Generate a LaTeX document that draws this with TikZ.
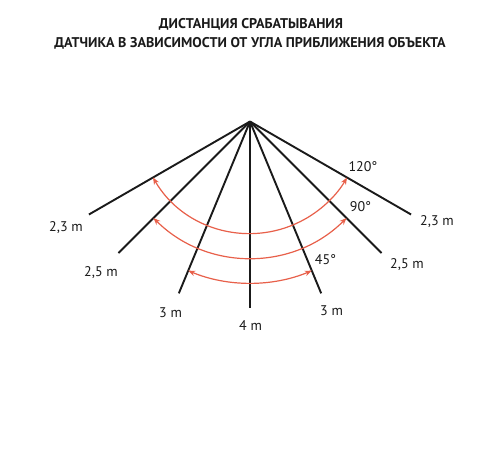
\documentclass[tikz,border=0pt]{standalone}
\usepackage{fontspec}
\setmainfont{PT Sans}
\usetikzlibrary{arrows.meta}
\definecolor{arcred}{HTML}{E8604A}
\definecolor{ink}{HTML}{1A1A1A}
\begin{document}
\begin{tikzpicture}[x=1pt,y=-1pt,
  ray/.style={draw=ink,line width=1.9pt},
  sweep/.style={draw=arcred,line width=1.2pt,{Stealth[length=7pt,width=5.5pt]}-{Stealth[length=7pt,width=5.5pt]}},
  lbl/.style={text=ink,font=\fontsize{14}{16}\selectfont,inner sep=0pt},
  ttl/.style={text=ink,font=\bfseries\fontsize{14.1}{16}\selectfont,inner sep=0pt}]
\useasboundingbox[fill=white] (0,0) rectangle (500,450);
% title
\node[ttl] (t1) at (251,24.5) {ДИСТАНЦИЯ СРАБАТЫВАНИЯ};
\node[ttl] (t2) at (250,43) {ДАТЧИКА В ЗАВИСИМОСТИ ОТ УГЛА ПРИБЛИЖЕНИЯ ОБЪЕКТА};
% apex and ray ends
\coordinate (apex) at (250,121.5);
\coordinate (eL23) at ([shift={(150:186)}]apex);
\coordinate (eL25) at ([shift={(135:186)}]apex);
\coordinate (eL3)  at ([shift={(112.5:186)}]apex);
\coordinate (eC4)  at ([shift={(90:186)}]apex);
\coordinate (eR3)  at ([shift={(67.5:186)}]apex);
\coordinate (eR25) at ([shift={(45:186)}]apex);
\coordinate (eR23) at ([shift={(30:186)}]apex);
\foreach \e in {eL23,eL25,eL3,eC4,eR3,eR25,eR23}
  \draw[ray] (apex) -- (\e);
% arc end points
\coordinate (a120s) at ([shift={(150:112)}]apex);
\coordinate (a90s)  at ([shift={(135:136.5)}]apex);
\coordinate (a45s)  at ([shift={(112.5:161.5)}]apex);
\draw[sweep] (a120s) arc[start angle=150,end angle=30,radius=112];
\draw[sweep] (a90s) arc[start angle=135,end angle=45,radius=136.5];
\draw[sweep] (a45s) arc[start angle=112.5,end angle=67.5,radius=161.5];
% labels
\node[lbl] (n1) at (66,228) {2,3 m};
\node[lbl] (n2) at (437,221.5) {2,3 m};
\node[lbl] (n3) at (101,273) {2,5 m};
\node[lbl] (n4) at (407,265) {2,5 m};
\node[lbl] (n5) at (170.5,313) {3 m};
\node[lbl] (n6) at (331.5,311) {3 m};
\node[lbl] (n7) at (250.5,325.5) {4 m};
\node[lbl] (g120) at (363,166.5) {120°};
\node[lbl] (g90) at (360.5,206.5) {90°};
\node[lbl] (g45) at (325.5,260) {45°};
\end{tikzpicture}
\end{document}
